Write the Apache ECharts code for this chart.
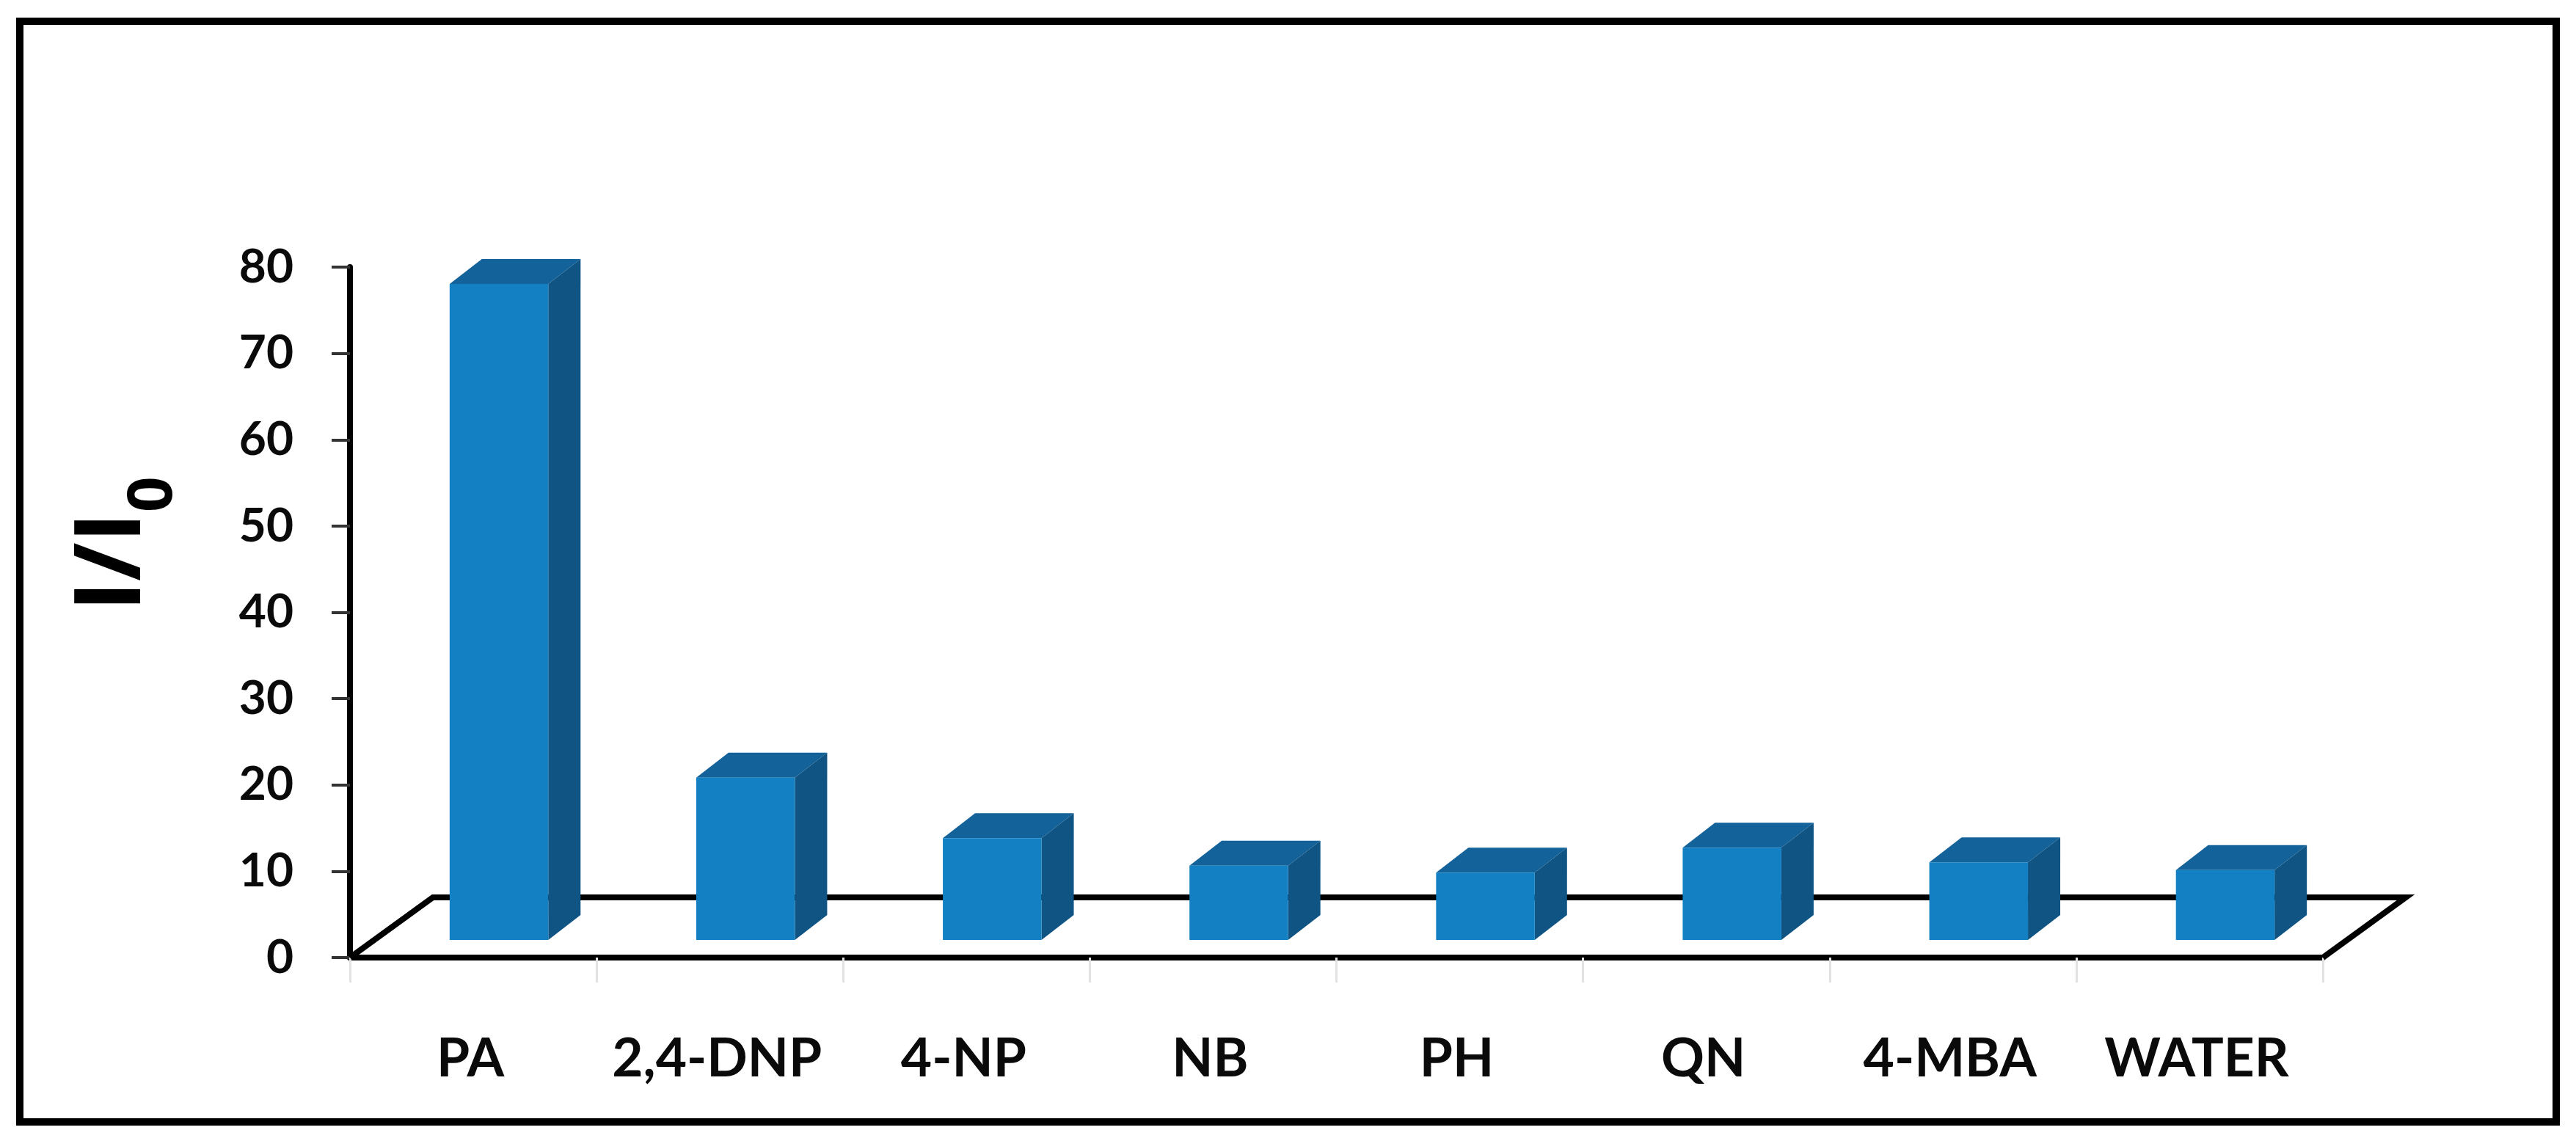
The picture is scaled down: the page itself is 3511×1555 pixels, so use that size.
<!DOCTYPE html>
<html>
<head>
<meta charset="utf-8">
<style>html,body{margin:0;padding:0;background:#fff}#c{width:3511px;height:1555px}</style>
<script src="https://cdn.jsdelivr.net/npm/echarts@6/dist/echarts.min.js"></script>
</head>
<body>
<div id="c"></div>
<script>
const categories = ['PA','2,4-DNP','4-NP','NB','PH','QN','4-MBA','WATER'];
const values = [76, 18.8, 11.8, 8.6, 7.8, 10.7, 9, 8.1];
const yTicks = {min:0, max:80, interval:10};

const DX = 44, DY = 34;            // bar depth projection
const BASE_LIFT = 24, BAR_SHIFT = 35, BAR_RATIO = 0.4;
const FLOOR_DX = 113, FLOOR_DY = 82;

function renderBar(params, api){
  const i = api.value(0), v = api.value(1);
  const band = api.size([1,0])[0];
  const cx = api.coord([i,0])[0] + BAR_SHIFT;
  const w = band*BAR_RATIO;
  const y0 = api.coord([i,0])[1] - BASE_LIFT;
  const yv = api.coord([i,v])[1] - BASE_LIFT;
  const l = cx-w/2, r = cx+w/2;
  return {type:'group', children:[
    {type:'polygon', shape:{points:[[l,yv],[l+DX,yv-DY],[r+DX,yv-DY],[r,yv]]}, style:{fill:'#136299'}},
    {type:'polygon', shape:{points:[[r,yv],[r+DX,yv-DY],[r+DX,y0-DY],[r,y0]]}, style:{fill:'#0f5483'}},
    {type:'rect', shape:{x:l,y:yv,width:w,height:y0-yv}, style:{fill:'#1280c3'}}
  ]};
}
function renderFloor(params, api){
  const g = params.coordSys;
  const b = g.y+g.height, L = g.x, R = g.x+g.width;
  return {type:'polyline', shape:{points:[[L,b],[L+FLOOR_DX,b-FLOOR_DY],[R+FLOOR_DX,b-FLOOR_DY],[R,b]]},
    style:{stroke:'#000',lineWidth:8,fill:null,lineJoin:'miter'}};
}

const chart = echarts.init(document.getElementById('c'), null, {renderer:'canvas'});
chart.setOption({
  animation:false,
  backgroundColor:'#fff',
  grid:{left:477, top:364, width:2689, height:941, containLabel:false},
  xAxis:{type:'category', data:categories, boundaryGap:true,
    axisLine:{show:true,onZero:false,lineStyle:{color:'#000',width:8}},
    axisTick:{show:true,alignWithLabel:false,length:34,lineStyle:{color:'#e2e2e2',width:3}},
    axisLabel:{interval:0,margin:138,fontFamily:'Lato',fontWeight:'bold',fontSize:73,color:'#0a0a0a',verticalAlign:'middle',padding:[0,8,0,0]},
    splitLine:{show:false}
  },
  yAxis:{type:'value', min:yTicks.min, max:yTicks.max, interval:yTicks.interval,
    name:'{a|I/I}{b|0}', nameLocation:'middle', nameRotate:90, nameGap:255,
    nameTextStyle:{padding:[0,0,0,186],rich:{
      a:{fontFamily:'Open Sans',fontWeight:'bold',fontSize:126,color:'#000',lineHeight:130,verticalAlign:'top'},
      b:{fontFamily:'Open Sans',fontWeight:'bold',fontSize:85,color:'#000',lineHeight:105,verticalAlign:'top',padding:[75,0,0,0]}
    }},
    axisLine:{show:true,lineStyle:{color:'#000',width:8}},
    axisTick:{show:true,length:25,lineStyle:{color:'#333',width:4}},
    axisLabel:{margin:77,fontFamily:'Lato',fontWeight:'bold',fontSize:64,color:'#0a0a0a'},
    splitLine:{show:false}
  },
  graphic:[{type:'rect',z:-1,shape:{x:27,y:29,width:3457,height:1500},style:{fill:'#fff',stroke:'#000',lineWidth:10}}],
  series:[
    {type:'custom',name:'floor',z:1,silent:true,renderItem:renderFloor,data:[[0,0]],encode:{x:0,y:1},clip:false},
    {type:'custom',name:'I/I0',z:3,renderItem:renderBar,data:categories.map((c,i)=>[c,values[i]]),encode:{x:0,y:1},clip:false}
  ]
});
</script>
</body>
</html>
